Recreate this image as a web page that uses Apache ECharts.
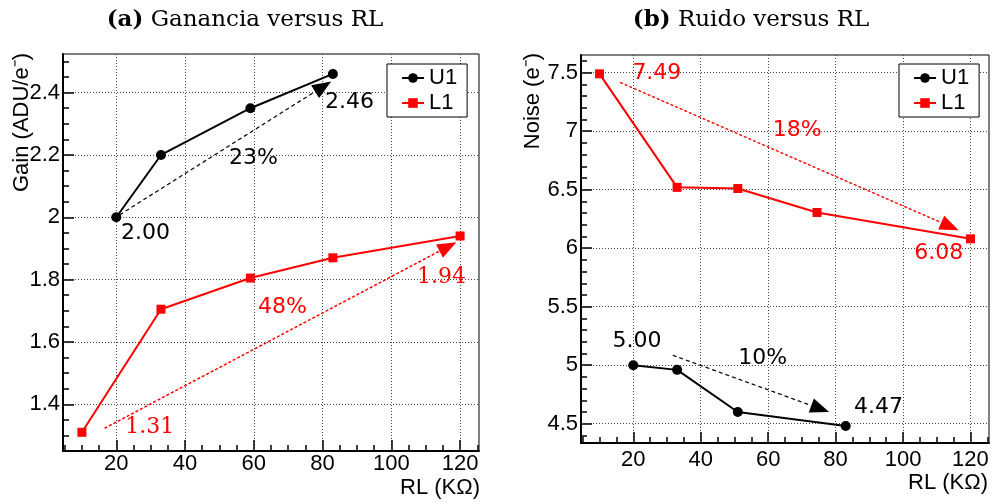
<!DOCTYPE html>
<html><head><meta charset="utf-8">
<script src="https://cdn.jsdelivr.net/npm/echarts@6/dist/echarts.min.js"></script>
<style>html,body{margin:0;padding:0;background:#fff}#c{width:992px;height:504px}</style>
</head><body><div id="c"></div>
<script>
// ---- data ----
const rlU1_a = [20, 33, 59, 83];
const gainU1 = [2.00, 2.20, 2.35, 2.46];
const rlL1_a = [10, 33, 59, 83, 120];
const gainL1 = [1.31, 1.705, 1.805, 1.87, 1.94];

const rlU1_b = [20, 33, 51, 83];
const noiseU1 = [5.00, 4.96, 4.60, 4.48];
const rlL1_b = [10, 33, 51, 74.5, 120];
const noiseL1 = [7.49, 6.52, 6.51, 6.305, 6.08];

// ---- ticks ----
const xTicks = [20, 40, 60, 80, 100, 120];
const xMinor = [5, 10, 15, 25, 30, 35, 45, 50, 55, 65, 70, 75, 85, 90, 95, 105, 110, 115, 125];
const gainTicks = [1.4, 1.6, 1.8, 2, 2.2, 2.4];
const gainMinor = [1.25, 1.3, 1.35, 1.45, 1.5, 1.55, 1.65, 1.7, 1.75, 1.85, 1.9, 1.95, 2.05, 2.1, 2.15, 2.25, 2.3, 2.35, 2.45, 2.5];
const noiseTicks = [4.5, 5, 5.5, 6, 6.5, 7, 7.5];
const noiseMinor = [4.4, 4.6, 4.7, 4.8, 4.9, 5.1, 5.2, 5.3, 5.4, 5.6, 5.7, 5.8, 5.9, 6.1, 6.2, 6.3, 6.4, 6.6, 6.7, 6.8, 6.9, 7.1, 7.2, 7.3, 7.4, 7.6];

// ---- annotations (data coordinates) ----
const textA = [
  ['2.00', 28.5, 1.948, '#000', 'sans'],
  ['2.46', 87.8, 2.37, '#000', 'sans'],
  ['23%', 59.9, 2.19, '#000', 'sans'],
  ['1.31', 29.7, 1.326, '#ff0000', 'serif'],
  ['48%', 68.3, 1.711, '#ff0000', 'sans'],
  ['1.94', 114.6, 1.807, '#ff0000', 'serif']
];
const textB = [
  ['7.49', 27, 7.495, '#ff0000', 'sans'],
  ['18%', 68.6, 7.006, '#ff0000', 'sans'],
  ['6.08', 110.6, 5.957, '#ff0000', 'sans'],
  ['5.00', 21.1, 5.205, '#000', 'sans'],
  ['10%', 58.4, 5.06, '#000', 'sans'],
  ['4.47', 92.7, 4.637, '#000', 'sans']
];
const arrowsA = [
  [[21, 2.008], [82.5, 2.436], '#000'],
  [[16.6, 1.323], [118.9, 1.92], '#ff0000']
];
const arrowsB = [
  [[16.1, 7.417], [116.5, 6.154], '#ff0000'],
  [[31.7, 5.085], [78.1, 4.6], '#000']
];

const SANS = '"Liberation Sans", Arial, sans-serif';
const grids = [
  {left: 63, top: 54, width: 416, height: 397},
  {left: 581, top: 55, width: 408, height: 388}
];

function mainX(gi, margin) {
  return {
    type: 'value', gridIndex: gi, min: 4.5, max: 125.5, position: 'bottom',
    axisLine: {show: true, onZero: false, lineStyle: {color: '#000', width: 2}},
    axisTick: {show: true, inside: true, length: 11, customValues: xTicks, lineStyle: {color: '#000', width: 1.5}},
    axisLabel: {show: true, customValues: xTicks, margin: margin, color: '#000', fontSize: 22, fontFamily: SANS},
    splitLine: {show: true, lineStyle: {color: '#444', type: [1, 2], width: 1}}
  };
}
function minorX(gi) {
  return {
    type: 'value', gridIndex: gi, min: 4.5, max: 125.5, position: 'bottom', offset: 0,
    axisLine: {show: false},
    axisTick: {show: true, inside: true, length: 6, customValues: xMinor, lineStyle: {color: '#000', width: 1.5}},
    axisLabel: {show: false}, splitLine: {show: false}
  };
}
function mainY(gi, mn, mx, ticks) {
  return {
    type: 'value', gridIndex: gi, min: mn, max: mx, position: 'left',
    axisLine: {show: true, onZero: false, lineStyle: {color: '#000', width: 2}},
    axisTick: {show: true, inside: true, length: 11, customValues: ticks, lineStyle: {color: '#000', width: 1.5}},
    axisLabel: {show: true, customValues: ticks, margin: 3, color: '#000', fontSize: 22, fontFamily: SANS},
    splitLine: {show: true, lineStyle: {color: '#444', type: [1, 2], width: 1}}
  };
}
function minorY(gi, mn, mx, ticks) {
  return {
    type: 'value', gridIndex: gi, min: mn, max: mx, position: 'left', offset: 0,
    axisLine: {show: false},
    axisTick: {show: true, inside: true, length: 6, customValues: ticks, lineStyle: {color: '#000', width: 1.5}},
    axisLabel: {show: false}, splitLine: {show: false}
  };
}
function pairs(xs, ys) { return xs.map((x, i) => [x, ys[i]]); }

function lineSeries(name, xi, yi, data, color, symbol) {
  return {
    type: 'line', name: name, xAxisIndex: xi, yAxisIndex: yi, data: data,
    symbol: symbol, symbolSize: symbol === 'rect' ? 9 : 10, showSymbol: true,
    lineStyle: {color: color, width: 2}, itemStyle: {color: color, opacity: 1},
    animation: false, silent: true, z: 5
  };
}
function textSeries(xi, yi, texts) {
  return {
    type: 'scatter', xAxisIndex: xi, yAxisIndex: yi, symbolSize: 0, silent: true, animation: false,
    itemStyle: {opacity: 1}, z: 6,
    data: texts.map(t => ({
      value: [t[1], t[2]],
      label: {show: true, position: 'inside', formatter: t[0], color: t[3], fontSize: 22, opacity: 1,
        textBorderWidth: 0,
        fontFamily: t[4] === 'serif' ? '"DejaVu Serif", serif' : '"DejaVu Sans", sans-serif'}
    }))
  };
}
function arrowSeries(xi, yi, arrows) {
  return {
    type: 'custom', xAxisIndex: xi, yAxisIndex: yi, silent: true, animation: false, z: 4,
    data: arrows.map(a => [a[0][0], a[0][1], a[1][0], a[1][1]]),
    renderItem: function (params, api) {
      const a = arrows[params.dataIndex];
      const color = a[2];
      const p1 = api.coord([api.value(0), api.value(1)]);
      const p2 = api.coord([api.value(2), api.value(3)]);
      const dx = p2[0] - p1[0], dy = p2[1] - p1[1];
      const L = Math.sqrt(dx * dx + dy * dy);
      const ux = dx / L, uy = dy / L;
      const hl = 19, hw = 7.5;
      const bx = p2[0] - ux * hl, by = p2[1] - uy * hl;
      return {
        type: 'group',
        children: [
          {type: 'line', shape: {x1: p1[0], y1: p1[1], x2: bx, y2: by},
           style: {stroke: color, lineWidth: color === '#000' ? 1.2 : 1.5, lineDash: color === '#000' ? [4, 3] : [3, 2]}},
          {type: 'polygon', shape: {points: [[p2[0], p2[1]], [bx - uy * hw, by + ux * hw], [bx + uy * hw, by - ux * hw]]},
           style: {fill: color}}
        ]
      };
    }
  };
}

const legendBase = (left) => ({
  left: left, top: 64, orient: 'vertical', data: ['U1', 'L1'],
  backgroundColor: '#fff', borderColor: '#000', borderWidth: 1, borderRadius: 0,
  padding: [3, 10, 3, 14], itemGap: 3, itemWidth: 22, itemHeight: 12,
  textStyle: {fontSize: 22, color: '#000', fontFamily: SANS},
  selectedMode: false
});

const chart = echarts.init(document.getElementById('c'), null, {renderer: 'canvas'});
chart.setOption({
  backgroundColor: '#fff',
  animation: false,
  grid: grids.map(g => Object.assign({show: true, borderColor: '#000', borderWidth: 1, backgroundColor: 'transparent'}, g)),
  xAxis: [mainX(0, 2), minorX(0), mainX(1, 6), minorX(1)],
  yAxis: [mainY(0, 1.25, 2.524, gainTicks), minorY(0, 1.25, 2.524, gainMinor),
          mainY(1, 4.335, 7.651, noiseTicks), minorY(1, 4.335, 7.651, noiseMinor)],
  legend: [legendBase(387), legendBase(899)],
  series: [
    lineSeries('U1', 0, 0, pairs(rlU1_a, gainU1), '#000', 'circle'),
    lineSeries('L1', 0, 0, pairs(rlL1_a, gainL1), '#ff0000', 'rect'),
    lineSeries('U1', 2, 2, pairs(rlU1_b, noiseU1), '#000', 'circle'),
    lineSeries('L1', 2, 2, pairs(rlL1_b, noiseL1), '#ff0000', 'rect'),
    arrowSeries(0, 0, arrowsA),
    arrowSeries(2, 2, arrowsB),
    textSeries(0, 0, textA),
    textSeries(2, 2, textB)
  ],
  graphic: [
    {type: 'text', x: 245, y: 20, style: {text: '{b|(a)} Ganancia versus RL', align: 'center', verticalAlign: 'middle',
      font: '23px "DejaVu Serif"', fill: '#000', rich: {b: {fontWeight: 'bold', fontSize: 23, fontFamily: 'DejaVu Serif'}}}},
    {type: 'text', x: 751, y: 20, style: {text: '{b|(b)} Ruido versus RL', align: 'center', verticalAlign: 'middle',
      font: '23px "DejaVu Serif"', fill: '#000', rich: {b: {fontWeight: 'bold', fontSize: 23, fontFamily: 'DejaVu Serif'}}}},
    {type: 'text', x: 22, y: 53, rotation: Math.PI / 2, style: {text: 'Gain (ADU/e\u207B)', align: 'right', verticalAlign: 'middle', font: '22px "Liberation Sans"', fill: '#000'}},
    {type: 'text', x: 533, y: 53, rotation: Math.PI / 2, style: {text: 'Noise (e\u207B)', align: 'right', verticalAlign: 'middle', font: '22px "Liberation Sans"', fill: '#000'}},
    {type: 'text', x: 480, y: 488, style: {text: 'RL (K\u03A9)', align: 'right', verticalAlign: 'middle', font: '22px "Liberation Sans"', fill: '#000'}},
    {type: 'text', x: 988, y: 483, style: {text: 'RL (K\u03A9)', align: 'right', verticalAlign: 'middle', font: '22px "Liberation Sans"', fill: '#000'}}
  ]
});
</script></body></html>
